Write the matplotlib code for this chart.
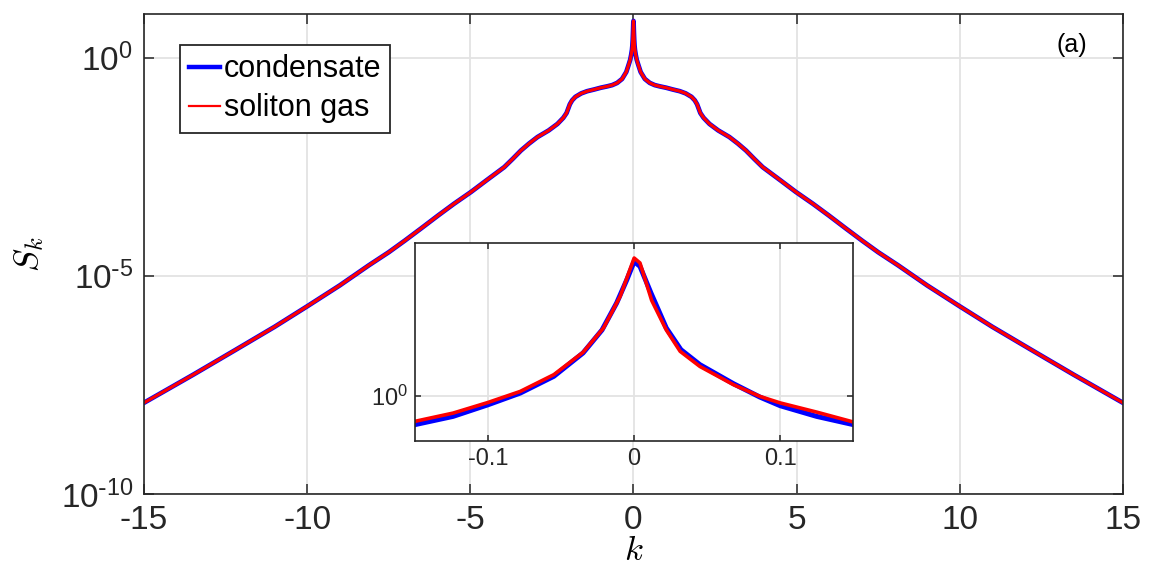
import numpy as np
import matplotlib
matplotlib.use('Agg')
import matplotlib.pyplot as plt
from matplotlib.lines import Line2D

plt.rcParams['font.family'] = ['Liberation Sans', 'DejaVu Sans']
plt.rcParams['mathtext.fontset'] = 'cm'
plt.rcParams['axes.unicode_minus'] = False

# main curve, log10(S_k) (both series overlap here)
k_main = [-15.0, -13.5, -12.2, -11.0, -10.0, -9.0, -8.11, -7.5, -7.0, -6.5, -5.99, -5.5,
          -4.98, -4.5, -3.96, -3.7, -3.45, -3.2, -2.94, -2.6, -2.33, -2.15, -2.05, -2.0,
          -1.95, -1.88, -1.78, -1.6, -1.42, -1.2, -1.0, -0.81, -0.65, -0.5, -0.35, -0.22,
          -0.15, -0.1, -0.068, -0.045, -0.032, -0.022, -0.012, -0.004,
          0.0,
          0.004, 0.012, 0.022, 0.032, 0.045, 0.068, 0.1, 0.15, 0.22, 0.35, 0.5, 0.65,
          0.81, 1.0, 1.2, 1.42, 1.6, 1.78, 1.88, 1.95, 2.0, 2.05, 2.15, 2.33, 2.6, 2.94,
          3.2, 3.45, 3.7, 3.96, 4.5, 4.98, 5.5, 5.99, 6.5, 7.0, 7.5, 8.11, 9.0, 10.0,
          11.0, 12.2, 13.5, 15.0]
logS_main = [-7.91, -7.27, -6.70, -6.17, -5.70, -5.22, -4.76, -4.46, -4.19, -3.91, -3.62, -3.35,
             -3.08, -2.81, -2.51, -2.32, -2.13, -1.97, -1.82, -1.67, -1.52, -1.38, -1.27, -1.17,
             -1.07, -0.98, -0.90, -0.82, -0.77, -0.73, -0.69, -0.66, -0.63, -0.58, -0.49, -0.33,
             -0.17, -0.05, 0.07, 0.18, 0.28, 0.41, 0.60, 0.80,
             0.84,
             0.80, 0.60, 0.41, 0.28, 0.18, 0.07, -0.05, -0.17, -0.33, -0.49, -0.58, -0.63,
             -0.66, -0.69, -0.73, -0.77, -0.82, -0.90, -0.98, -1.07, -1.17, -1.27, -1.38, -1.52,
             -1.67, -1.82, -1.97, -2.13, -2.32, -2.51, -2.81, -3.08, -3.35, -3.62, -3.91, -4.19,
             -4.46, -4.76, -5.22, -5.70, -6.17, -6.70, -7.27, -7.91]

# inset, log10(S_k)
k_cond = [-0.15, -0.124, -0.1, -0.078, -0.055, -0.035, -0.022, -0.012, -0.005, 0.0,
          0.004, 0.0115, 0.022, 0.032, 0.045, 0.068, 0.086, 0.1, 0.125, 0.15]
logS_cond = [-0.176, -0.126, -0.055, 0.016, 0.118, 0.26, 0.40, 0.564, 0.706, 0.817,
             0.787, 0.625, 0.412, 0.28, 0.189, 0.073, -0.008, -0.061, -0.126, -0.176]
k_sol = [-0.15, -0.124, -0.1, -0.078, -0.055, -0.035, -0.021, -0.0096, 0.0,
         0.004, 0.012, 0.022, 0.0315, 0.045, 0.068, 0.086, 0.1, 0.125, 0.15]
logS_sol = [-0.156, -0.106, -0.041, 0.026, 0.128, 0.264, 0.412, 0.604, 0.838,
            0.808, 0.58, 0.40, 0.27, 0.178, 0.067, -0.004, -0.044, -0.10, -0.16]

main_yticks = [1e-10, 1e-5, 1e0]
main_ylabels = [r'$\mathdefault{10^{\text{-}10}}$', r'$\mathdefault{10^{\text{-}5}}$',
                r'$\mathdefault{10^{0}}$']

S_main = 10.0 ** np.array(logS_main)
S_cond = 10.0 ** np.array(logS_cond)
S_sol = 10.0 ** np.array(logS_sol)

dark = '#262626'
gridc = '#e3e3e3'


def style(ax, tick_len, lab_size, pad):
    for s in ax.spines.values():
        s.set_color(dark)
        s.set_linewidth(1.2)
    ax.tick_params(which='both', direction='in', top=True, right=True,
                   length=tick_len, width=1.1, color=dark, labelcolor=dark,
                   labelsize=lab_size, pad=pad)
    ax.tick_params(which='minor', length=0)
    ax.grid(True, color=gridc, linewidth=1.3)
    ax.set_axisbelow(True)


fig = plt.figure(figsize=(11.53, 5.65), dpi=100)
ax = fig.add_axes([0.1249, 0.1257, 0.849, 0.8496])
ax.plot(k_main, S_main, color='#0000ff', lw=3.4)
ax.plot(k_main, S_main, color='#ff0000', lw=2.3)
ax.set_yscale('log')
ax.set_xlim(-15, 15)
ax.set_ylim(1e-10, 1e1)
ax.set_xticks([-15, -10, -5, 0, 5, 10, 15])
ax.set_yticks(main_yticks)
ax.set_yticklabels(main_ylabels)
ax.yaxis.set_minor_locator(matplotlib.ticker.NullLocator())
style(ax, 7.5, 24, 8)
ax.set_xlabel('$k$', fontsize=25)
ax.set_ylabel('$S_k$', fontsize=25)
ax.xaxis.set_label_coords(0.5, -0.083)
ax.yaxis.set_label_coords(-0.1, 0.5)

handles = [Line2D([], [], color='#0000ff', lw=3.2),
           Line2D([], [], color='#ff0000', lw=1.6)]
leg = ax.legend(handles, ['condensate', 'soliton gas'], loc='upper left',
                bbox_to_anchor=(0.037, 0.935), fontsize=22, handlelength=1.0,
                handletextpad=0.12, borderpad=0.3, labelspacing=0.3,
                borderaxespad=0, fancybox=False, framealpha=1)
leg.get_frame().set_edgecolor(dark)
leg.get_frame().set_linewidth(1.3)

ax.text(0.948, 0.935, '(a)', transform=ax.transAxes, fontsize=18,
        color='black', ha='center', va='center')

ins = fig.add_axes([0.360, 0.2195, 0.380, 0.3504])
ins.plot(k_cond, S_cond, color='#0000ff', lw=3.6)
ins.plot(k_sol, S_sol, color='#ff0000', lw=2.6)
ins.set_yscale('log')
ins.set_xlim(-0.15, 0.15)
ins.set_ylim(0.53, 8.5)
ins.set_xticks([-0.1, 0, 0.1])
ins.set_xticklabels(['-0.1', '0', '0.1'])
ins.set_yticks([1e0])
ins.set_yticklabels([r'$\mathdefault{10^{0}}$'])
ins.yaxis.set_minor_locator(matplotlib.ticker.NullLocator())
style(ins, 4.5, 17, 5)

fig.savefig('out.png', dpi=100)
